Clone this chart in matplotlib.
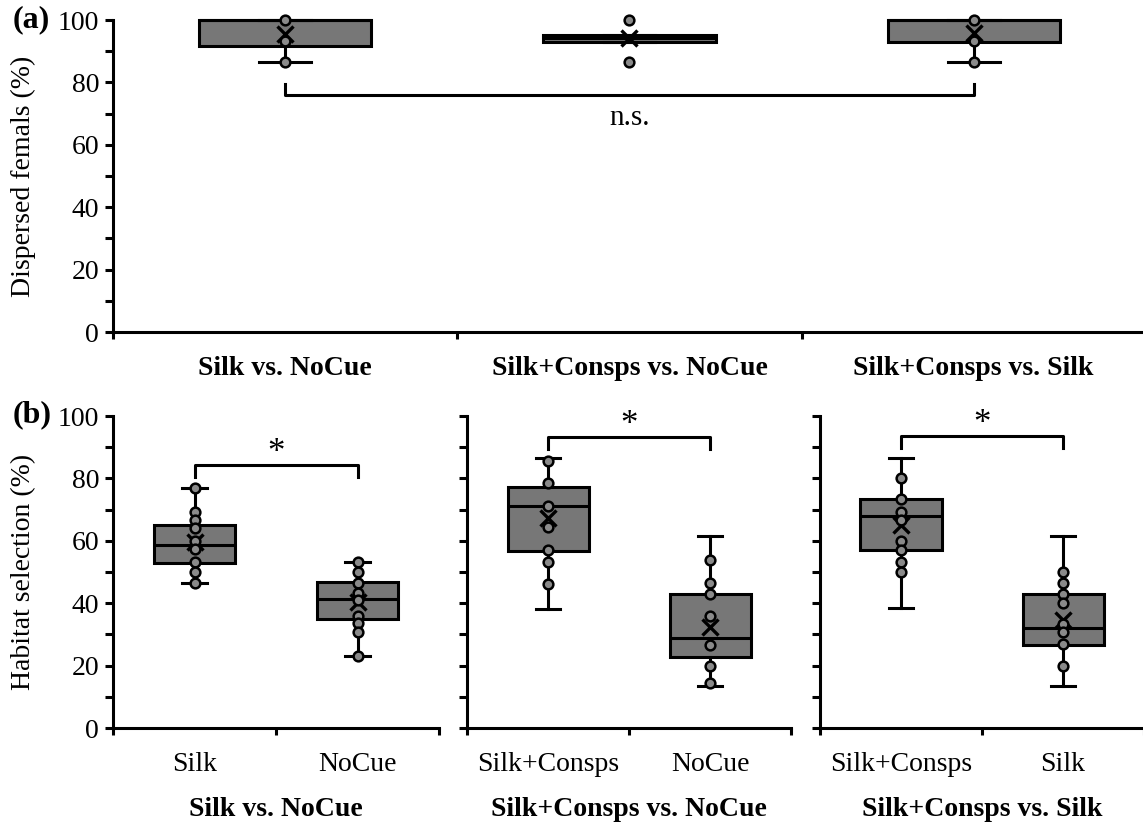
import numpy as np
import matplotlib
matplotlib.use("Agg")
import matplotlib.pyplot as plt
from matplotlib.ticker import MultipleLocator, FixedLocator

plt.rcParams['font.family'] = ['Liberation Serif', 'DejaVu Serif']

# ---- panel (a): dispersal, one box per comparison ----
a_groups = ['Silk vs. NoCue', 'Silk+Consps vs. NoCue', 'Silk+Consps vs. Silk']
a_q1 = [91.7, 93.0, 93.0]
a_med = [100.0, 94.2, 100.0]
a_q3 = [100.0, 95.2, 100.0]
a_lo = [86.7, 93.0, 86.7]
a_hi = [100.0, 95.2, 100.0]
a_mean = [95.5, 94.2, 96.0]
a_points = [[100.0, 93.3, 86.7], [100.0, 86.7], [100.0, 93.3, 86.7]]

# ---- panel (b): habitat selection, two boxes per comparison ----
b_titles = ['Silk vs. NoCue', 'Silk+Consps vs. NoCue', 'Silk+Consps vs. Silk']
b_cats = [['Silk', 'NoCue'], ['Silk+Consps', 'NoCue'], ['Silk+Consps', 'Silk']]
b_q1 = [[53.0, 35.0], [56.8, 22.9], [57.1, 26.6]]
b_med = [[58.8, 41.5], [71.3, 28.7], [67.9, 32.2]]
b_q3 = [[65.1, 46.9], [77.3, 42.9], [73.4, 43.1]]
b_lo = [[46.6, 23.2], [38.3, 13.5], [38.6, 13.5]]
b_hi = [[77.0, 53.3], [86.6, 61.6], [86.6, 61.6]]
b_mean = [[59.5, 40.5], [67.4, 32.5], [65.1, 34.6]]
b_points = [
    [[77.0, 69.3, 66.8, 64.2, 60.0, 57.4, 53.3, 50.1, 46.6],
     [53.3, 50.1, 46.4, 43.2, 41.0, 35.9, 33.5, 30.9, 23.2]],
    [[85.7, 78.6, 71.3, 64.3, 57.1, 53.3, 46.2],
     [53.8, 46.6, 42.9, 35.9, 26.6, 20.0, 14.4]],
    [[80.0, 73.4, 69.3, 66.7, 60.0, 57.1, 53.3, 50.1],
     [50.1, 46.4, 42.9, 40.2, 33.2, 30.9, 26.8, 20.0]],
]
b_bracket = [84.3, 93.2, 93.6]
b_sig = ['*', '*', '*']

a_bracket = 76.0
a_sig = 'n.s.'

fs = 20
box_col = '#777777'
lw = 2.2


def draw_boxes(ax, pos, q1, med, q3, lo, hi, mean, pts):
    stats = []
    for i in range(len(pos)):
        stats.append(dict(q1=q1[i], med=med[i], q3=q3[i], whislo=lo[i],
                          whishi=hi[i], mean=mean[i], fliers=[]))
    ax.bxp(stats, positions=pos, widths=0.5, patch_artist=True,
           showmeans=True, showfliers=False, capwidths=0.15,
           boxprops=dict(facecolor=box_col, edgecolor='black', linewidth=lw),
           medianprops=dict(color='black', linewidth=lw),
           whiskerprops=dict(color='black', linewidth=lw),
           capprops=dict(color='black', linewidth=lw),
           meanprops=dict(marker='x', markeredgecolor='black',
                          markersize=11, markeredgewidth=2.4))
    for i, p in enumerate(pos):
        ax.plot([p] * len(pts[i]), pts[i], 'o', ms=7, mfc='#8a8a8a',
                mec='black', mew=1.8, zorder=5, clip_on=False)
    for art in ax.patches + ax.lines:
        art.set_clip_on(False)


def style_axis(ax):
    for s in ['top', 'right']:
        ax.spines[s].set_visible(False)
    for s in ['left', 'bottom']:
        ax.spines[s].set_linewidth(lw)
    ax.set_ylim(0, 100)
    ax.yaxis.set_major_locator(MultipleLocator(20))
    ax.yaxis.set_minor_locator(MultipleLocator(10))
    ax.tick_params(axis='y', which='both', direction='out', length=6,
                   width=lw, labelsize=fs, pad=4)
    ax.tick_params(axis='x', which='major', direction='out', length=5,
                   width=lw, labelbottom=False)
    ax.tick_params(axis='x', which='minor', length=0, labelsize=fs, pad=17)


fig = plt.figure(figsize=(11.43, 8.24), dpi=100)

# panel (a)
axa = fig.add_axes([0.0989, 0.597, 0.9036, 0.3786])
style_axis(axa)
draw_boxes(axa, [0, 1, 2], a_q1, a_med, a_q3, a_lo, a_hi, a_mean, a_points)
axa.set_xlim(-0.5, 2.5)
axa.xaxis.set_major_locator(FixedLocator([-0.5, 0.5, 1.5, 2.5]))
axa.xaxis.set_minor_locator(FixedLocator([0, 1, 2]))
axa.set_xticklabels(a_groups, minor=True, fontweight='bold')
axa.plot([0, 0, 2, 2], [a_bracket + 3.5, a_bracket, a_bracket, a_bracket + 3.5],
         color='black', lw=lw)
axa.text(1, a_bracket - 7.5, a_sig, ha='center', va='center', fontsize=fs + 1)
axa.set_ylabel('Dispersed femals (%)', fontsize=20)
axa.yaxis.set_label_coords(-0.0745, 0.5)
fig.text(0.011, 0.976, '(a)', fontsize=23, fontweight='bold', va='center')

# panel (b)
lefts = [0.0989, 0.4086, 0.7174]
widths = [0.2852, 0.2835, 0.2835]
for k in range(3):
    ax = fig.add_axes([lefts[k], 0.1165, widths[k], 0.3786])
    style_axis(ax)
    draw_boxes(ax, [0, 1], b_q1[k], b_med[k], b_q3[k], b_lo[k], b_hi[k],
               b_mean[k], b_points[k])
    ax.set_xlim(-0.5, 1.5)
    ax.xaxis.set_major_locator(FixedLocator([-0.5, 0.5, 1.5]))
    ax.xaxis.set_minor_locator(FixedLocator([0, 1]))
    ax.set_xticklabels(b_cats[k], minor=True)
    ax.set_xlabel(b_titles[k], fontsize=fs, fontweight='bold', labelpad=15)
    yb = b_bracket[k]
    ax.plot([0, 0, 1, 1], [yb - 3.8, yb, yb, yb - 3.8], color='black', lw=lw,
            clip_on=False)
    ax.text(0.5, yb - 1.5, b_sig[k], ha='center', va='bottom', fontsize=fs + 5)
    if k == 0:
        ax.set_ylabel('Habitat selection (%)', fontsize=20)
        ax.yaxis.set_label_coords(-0.236, 0.5)
    else:
        ax.set_yticklabels([])
fig.text(0.011, 0.4964, '(b)', fontsize=23, fontweight='bold', va='center')

fig.savefig('out.png', dpi=100, facecolor='white')
